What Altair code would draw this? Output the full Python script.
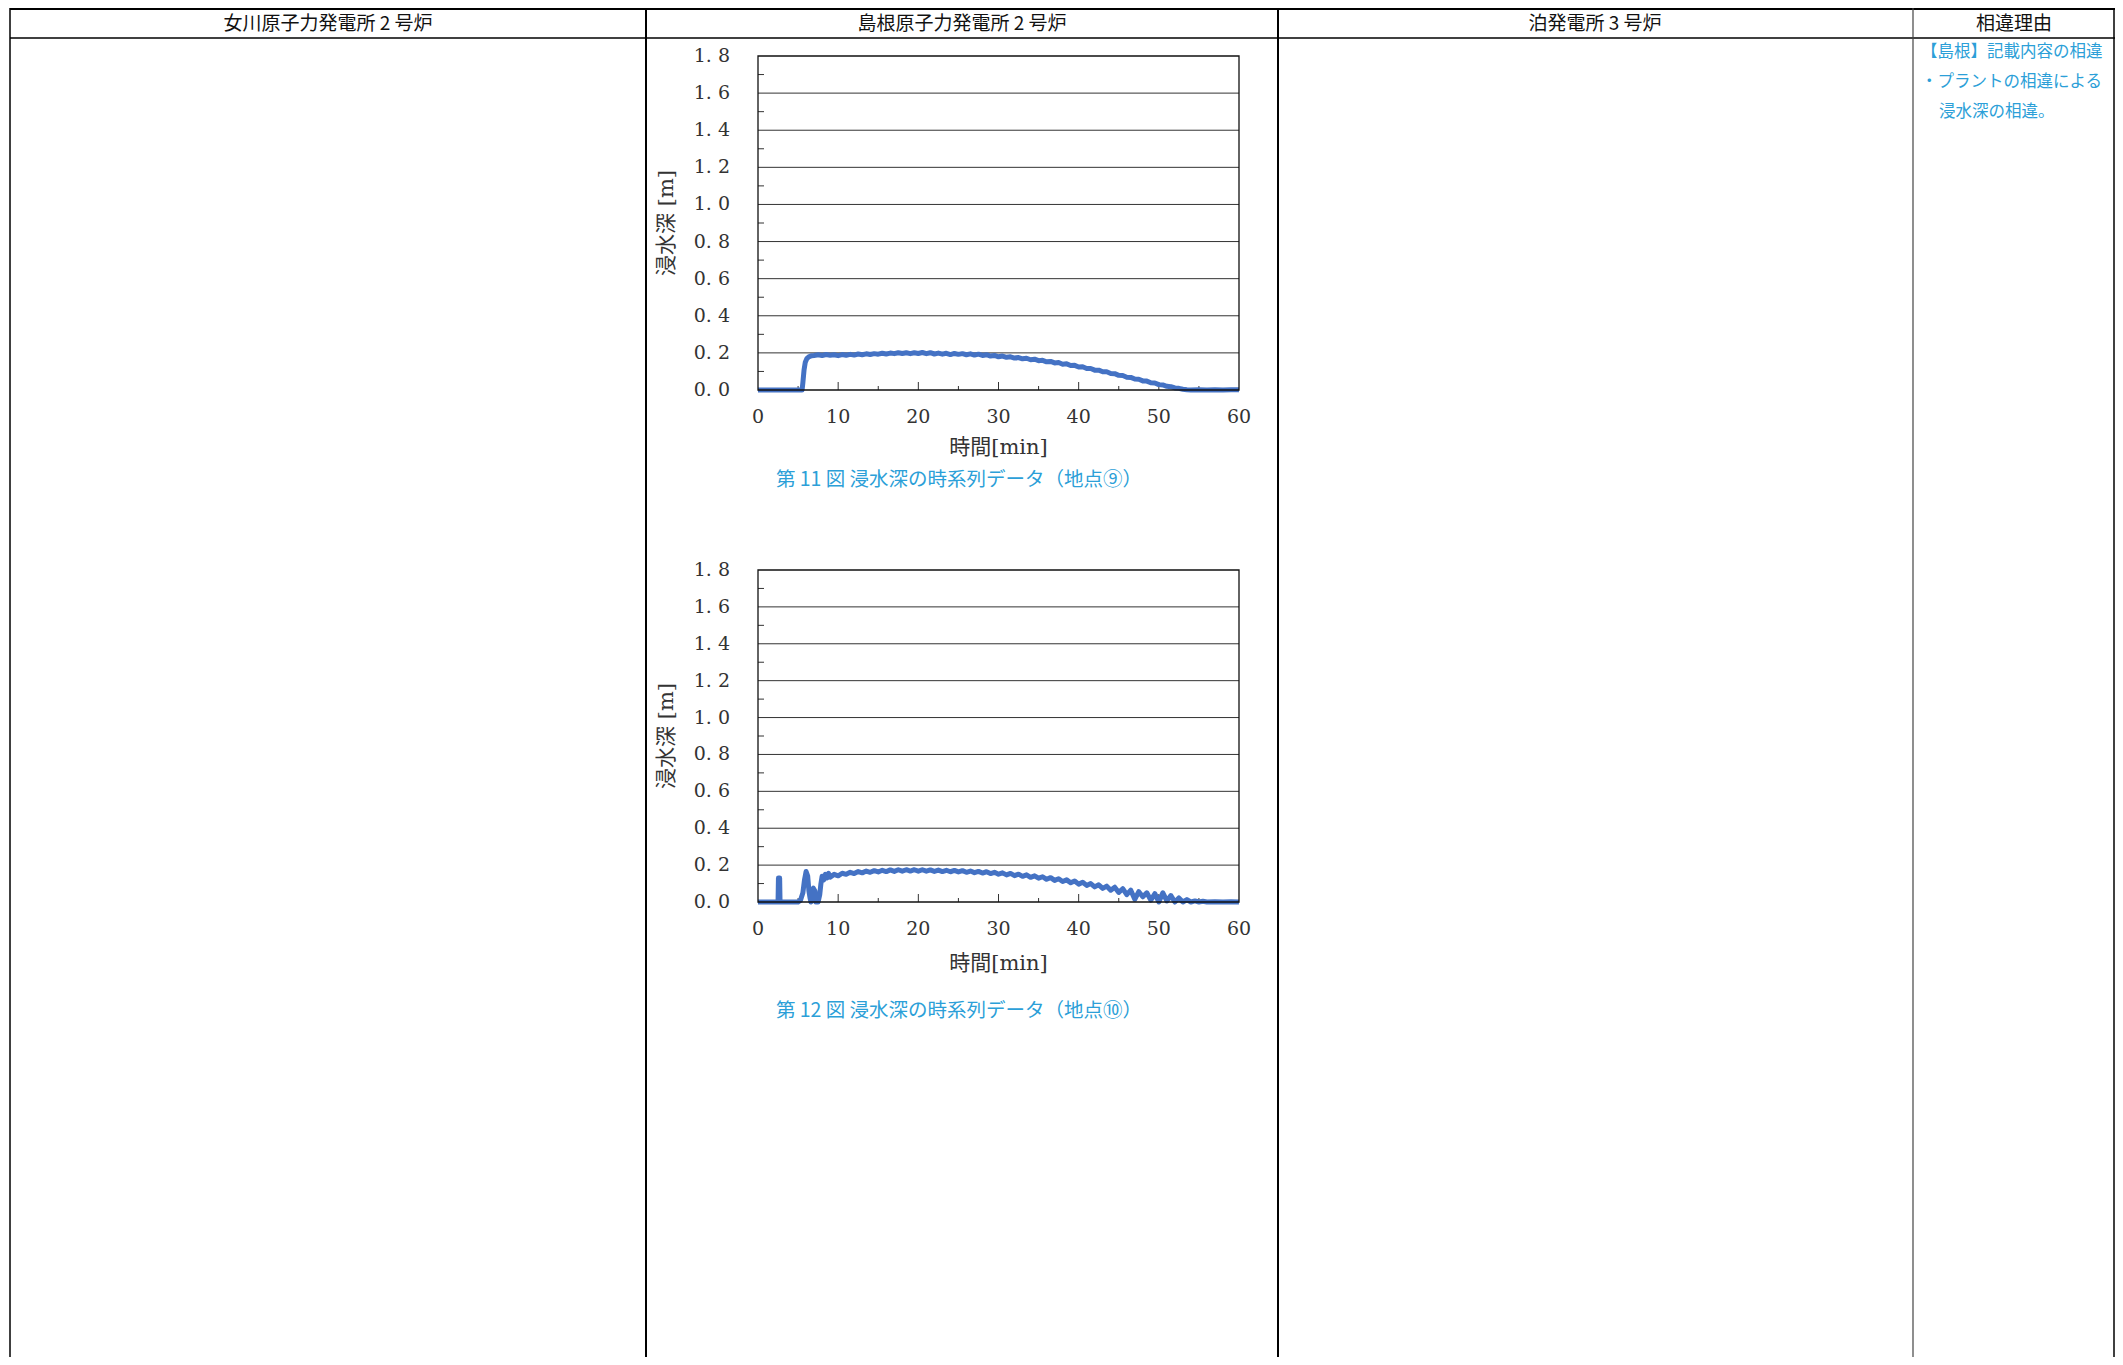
import altair as alt
import pandas as pd

# ---------------- data ----------------
# Fig.11  point 9 : time [min] / inundation depth [m]
t9 = [0, 1, 2, 3, 4, 5, 5.5, 5.6, 5.75, 5.9, 6.1, 6.4, 6.7,
      7.0, 7.5, 8.0, 8.5, 9.0, 9.5, 10.0, 10.5, 11.0, 11.5, 12.0, 12.5, 13.0, 13.5,
      14.0, 14.5, 15.0, 15.5, 16.0, 16.5, 17.0, 17.5, 18.0, 18.5, 19.0, 19.5, 20.0,
      20.5, 21.0, 21.5, 22.0, 22.5, 23.0, 23.5, 24.0, 24.5, 25.0, 25.5, 26.0, 26.5,
      27.0, 27.5, 28.0, 28.5, 29.0, 29.5, 30.0, 30.5, 31.0, 31.5, 32.0, 32.5, 33.0,
      33.5, 34.0, 34.5, 35.0, 35.5, 36.0, 36.5, 37.0, 37.5, 38.0, 38.5, 39.0, 39.5,
      40.0, 40.5, 41.0, 41.5, 42.0, 42.5, 43.0, 43.5, 44.0, 44.5, 45.0, 45.5, 46.0,
      46.5, 47.0, 47.5, 48.0, 48.5, 49.0, 49.5, 50.0, 50.5, 51.0, 51.5, 52.0, 52.5,
      53.0, 53.5, 54, 55, 56, 57, 58, 59, 60]
d9 = [0, 0, 0, 0, 0, 0, 0.0, 0.04, 0.11, 0.15, 0.17, 0.18, 0.185,
      0.186, 0.190, 0.186, 0.191, 0.187, 0.190, 0.185, 0.191, 0.187, 0.192, 0.188, 0.194, 0.190, 0.195,
      0.191, 0.196, 0.193, 0.198, 0.194, 0.199, 0.196, 0.201, 0.197, 0.201, 0.196, 0.201, 0.197,
      0.202, 0.196, 0.201, 0.194, 0.199, 0.193, 0.198, 0.191, 0.197, 0.192, 0.196, 0.190, 0.195,
      0.188, 0.193, 0.186, 0.190, 0.183, 0.186, 0.179, 0.183, 0.176, 0.179, 0.172, 0.175, 0.168,
      0.171, 0.163, 0.166, 0.158, 0.160, 0.152, 0.154, 0.146, 0.148, 0.139, 0.141, 0.132, 0.133,
      0.124, 0.125, 0.116, 0.116, 0.107, 0.107, 0.098, 0.098, 0.089, 0.088, 0.079, 0.078, 0.069,
      0.068, 0.059, 0.058, 0.049, 0.048, 0.039, 0.038, 0.029, 0.027, 0.020, 0.018, 0.011, 0.009,
      0.004, 0.001, 0.0, 0.002, 0.0, 0.002, 0.0, 0.002, 0.001]

# Fig.12  point 10
t10 = [0, 1, 2, 2.5, 2.55, 2.7, 2.75, 4, 5, 5.3, 5.6, 5.8, 6.0, 6.2, 6.35, 6.5, 6.6,
       6.75, 6.9, 7.1, 7.2, 7.5, 7.7, 7.85, 8.0, 8.2, 8.4, 8.6, 8.8, 9.0,
       9.5, 10.0, 10.5, 11.0, 11.5, 12.0, 12.5, 13.0, 13.5, 14.0, 14.5, 15.0, 15.5,
       16.0, 16.5, 17.0, 17.5, 18.0, 18.5, 19.0, 19.5, 20.0, 20.5, 21.0, 21.5, 22.0,
       22.5, 23.0, 23.5, 24.0, 24.5, 25.0, 25.5, 26.0, 26.5, 27.0, 27.5, 28.0, 28.5,
       29.0, 29.5, 30.0, 30.5, 31.0, 31.5, 32.0, 32.5, 33.0, 33.5, 34.0, 34.5, 35.0,
       35.5, 36.0, 36.5, 37.0, 37.5, 38.0, 38.5, 39.0, 39.5, 40.0, 40.5, 41.0, 41.5,
       42.0, 42.5, 43.0, 43.5, 44.0,
       44.5, 45.0, 45.5, 46.0, 46.5, 47.0, 47.5, 48.0,
       48.5, 49.0, 49.5, 50.0, 50.5, 51.0, 51.5, 52.0, 52.5, 53.0, 53.5, 54.0, 54.5,
       55.0, 55.5, 56, 57, 58, 59, 60]
d10 = [0, 0, 0, 0, 0.13, 0.13, 0, 0, 0, 0.01, 0.05, 0.12, 0.165, 0.14, 0.06, 0.02, 0.0,
       0.06, 0.075, 0.06, 0.0, 0.0, 0.04, 0.10, 0.14, 0.12, 0.15, 0.13, 0.155, 0.135,
       0.150, 0.142, 0.156, 0.150, 0.161, 0.154, 0.165, 0.158, 0.168, 0.161, 0.170, 0.163, 0.172,
       0.165, 0.174, 0.166, 0.175, 0.167, 0.175, 0.168, 0.175, 0.167, 0.175, 0.167, 0.174, 0.166,
       0.173, 0.165, 0.172, 0.164, 0.171, 0.163, 0.170, 0.161, 0.168, 0.159, 0.166, 0.157, 0.164,
       0.154, 0.161, 0.151, 0.158, 0.147, 0.155, 0.143, 0.151, 0.139, 0.147, 0.134, 0.142, 0.129,
       0.137, 0.123, 0.132, 0.117, 0.126, 0.111, 0.120, 0.104, 0.114, 0.097, 0.107, 0.090, 0.100,
       0.082, 0.093, 0.074, 0.086, 0.064,
       0.080, 0.052, 0.072, 0.040, 0.064, 0.015, 0.056, 0.028,
       0.050, 0.010, 0.045, 0.0, 0.050, 0.006, 0.035, 0.0, 0.022, 0.0, 0.013, 0.0, 0.006,
       0.0, 0.004, 0.0, 0.002, 0.0, 0.001, 0.0]

y_ticks = [0.0, 0.2, 0.4, 0.6, 0.8, 1.0, 1.2, 1.4, 1.6, 1.8]
y_tick_labels = ["0. 0", "0. 2", "0. 4", "0. 6", "0. 8", "1. 0", "1. 2", "1. 4", "1. 6", "1. 8"]
y_grid = [0.2, 0.4, 0.6, 0.8, 1.0, 1.2, 1.4, 1.6]
y_minor = [0.1, 0.3, 0.5, 0.7, 0.9, 1.1, 1.3, 1.5, 1.7]
x_ticks = [0, 10, 20, 30, 40, 50, 60]
x_tick_labels = ["0", "10", "20", "30", "40", "50", "60"]
x_major = [10, 20, 30, 40, 50]
x_minor = [5, 15, 25, 35, 45, 55]

headers = ["女川原子力発電所 2 号炉", "島根原子力発電所 2 号炉", "泊発電所 3 号炉", "相違理由"]
captions = ["第 11 図  浸水深の時系列データ（地点⑨）", "第 12 図  浸水深の時系列データ（地点⑩）"]
reason_lines = ["【島根】記載内容の相違", "・プラントの相違による", "浸水深の相違。"]
x_title = "時間[min]"
y_title = "浸水深 [m]"

# ---------------- layout ----------------
W, H = 2107, 1349
X0, X1 = 750, 1231
LINE_COLOR = "#4472C4"
CAP_COLOR = "#2C9FD8"
SERIF = "DejaVu Serif, Noto Sans CJK JP"
SANS = "Noto Sans CJK JP"
one = pd.DataFrame({"k": [0]})


def text_at(s, x, y, **kw):
    return alt.Chart(pd.DataFrame({"s": [s]})).mark_text(**kw).encode(
        x=alt.value(x), y=alt.value(y), text="s:N")


def vline(x, y1, y2, color="black", w=1.5):
    return alt.Chart(one).mark_rule(color=color, strokeWidth=w).encode(
        x=alt.value(x), y=alt.value(y1), y2=alt.value(y2))


def hline(y, x1, x2, color="black", w=1.5):
    return alt.Chart(one).mark_rule(color=color, strokeWidth=w).encode(
        y=alt.value(y), x=alt.value(x1), x2=alt.value(x2))


def panel(t, d, ytop, ybot, xtitle_y, caption, caption_y, lw):
    xs = alt.Scale(domain=[0, 60], range=[X0, X1], nice=False, zero=False)
    ys = alt.Scale(domain=[0, 1.8], range=[ybot, ytop], nice=False, zero=False)
    layers = []
    layers.append(alt.Chart(pd.DataFrame({"v": y_grid})).mark_rule(color="#333", strokeWidth=1).encode(
        y=alt.Y("v:Q", scale=ys, axis=None), x=alt.value(X0), x2=alt.value(X1)))
    layers.append(alt.Chart(pd.DataFrame({"v": y_minor})).mark_rule(color="#333", strokeWidth=1).encode(
        y=alt.Y("v:Q", scale=ys, axis=None), x=alt.value(X0), x2=alt.value(X0 + 6)))
    layers.append(alt.Chart(pd.DataFrame({"v": x_major})).mark_rule(color="#333", strokeWidth=1).encode(
        x=alt.X("v:Q", scale=xs, axis=None), y=alt.value(ybot), y2=alt.value(ybot - 8)))
    layers.append(alt.Chart(pd.DataFrame({"v": x_minor})).mark_rule(color="#333", strokeWidth=1).encode(
        x=alt.X("v:Q", scale=xs, axis=None), y=alt.value(ybot), y2=alt.value(ybot - 4)))
    layers.append(alt.Chart(pd.DataFrame({"t": t, "d": d})).mark_line(
        color=LINE_COLOR, strokeWidth=lw, strokeJoin="round").encode(
        x=alt.X("t:Q", scale=xs, axis=None), y=alt.Y("d:Q", scale=ys, axis=None), order="t:Q"))
    layers.append(alt.Chart(pd.DataFrame({"x0": [0], "x1": [60], "y0": [0.0], "y1": [1.8]})).mark_rect(
        fillOpacity=0, stroke="#111", strokeWidth=1.3).encode(
        x=alt.X("x0:Q", scale=xs, axis=None), x2="x1:Q",
        y=alt.Y("y0:Q", scale=ys, axis=None), y2="y1:Q"))
    layers.append(alt.Chart(pd.DataFrame({"v": y_ticks, "lab": y_tick_labels})).mark_text(
        align="right", baseline="middle", font=SERIF, fontSize=19, color="#333").encode(
        y=alt.Y("v:Q", scale=ys, axis=None), x=alt.value(X0 - 28), text="lab:N"))
    layers.append(alt.Chart(pd.DataFrame({"v": x_ticks, "lab": x_tick_labels})).mark_text(
        align="center", baseline="middle", font=SERIF, fontSize=19, color="#333").encode(
        x=alt.X("v:Q", scale=xs, axis=None), y=alt.value(ybot + 27), text="lab:N"))
    layers.append(text_at(x_title, (X0 + X1) / 2, xtitle_y, align="center", baseline="middle",
                          font=SERIF, fontSize=21, color="#333"))
    layers.append(text_at(y_title, 659, (ytop + ybot) / 2, align="center", baseline="middle",
                          angle=270, font=SERIF, fontSize=21, color="#333"))
    layers.append(text_at(caption, 951, caption_y, align="center", baseline="middle",
                          font=SANS, fontSize=19.5, color=CAP_COLOR))
    return layers


layers = []
# table frame
layers.append(hline(1, 2, 2107, w=2.2))
layers.append(hline(30, 2, 2107, w=1.5))
layers.append(vline(2, 0, H, w=1.5))
layers.append(vline(638, 0, H, w=2))
layers.append(vline(1270, 0, H, w=2))
layers.append(vline(1905, 0, H, color="#444", w=1.2))
layers.append(vline(2106, 0, H, w=1.5))

# header texts
for s, cx in zip(headers, [320, 954, 1587, 2006]):
    layers.append(text_at(s, cx, 16, align="center", baseline="middle", font=SANS,
                          fontSize=19, color="#111"))

# reason column
for s, (x, y) in zip(reason_lines, [(1913, 44), (1913, 74), (1931, 104)]):
    layers.append(text_at(s, x, y, align="left", baseline="middle", font=SANS,
                          fontSize=16.5, color=CAP_COLOR))

layers += panel(t9, d9, 48, 382, 440, captions[0], 472, 5)
layers += panel(t10, d10, 562, 894, 956, captions[1], 1003, 5)

chart = alt.layer(*layers).resolve_scale(x="independent", y="independent").properties(
    width=W, height=H, padding=0, autosize=alt.AutoSizeParams(type="none"), background="white"
).configure_view(stroke=None)

chart.save("out.html", embed_options={"renderer": "svg", "actions": False})
